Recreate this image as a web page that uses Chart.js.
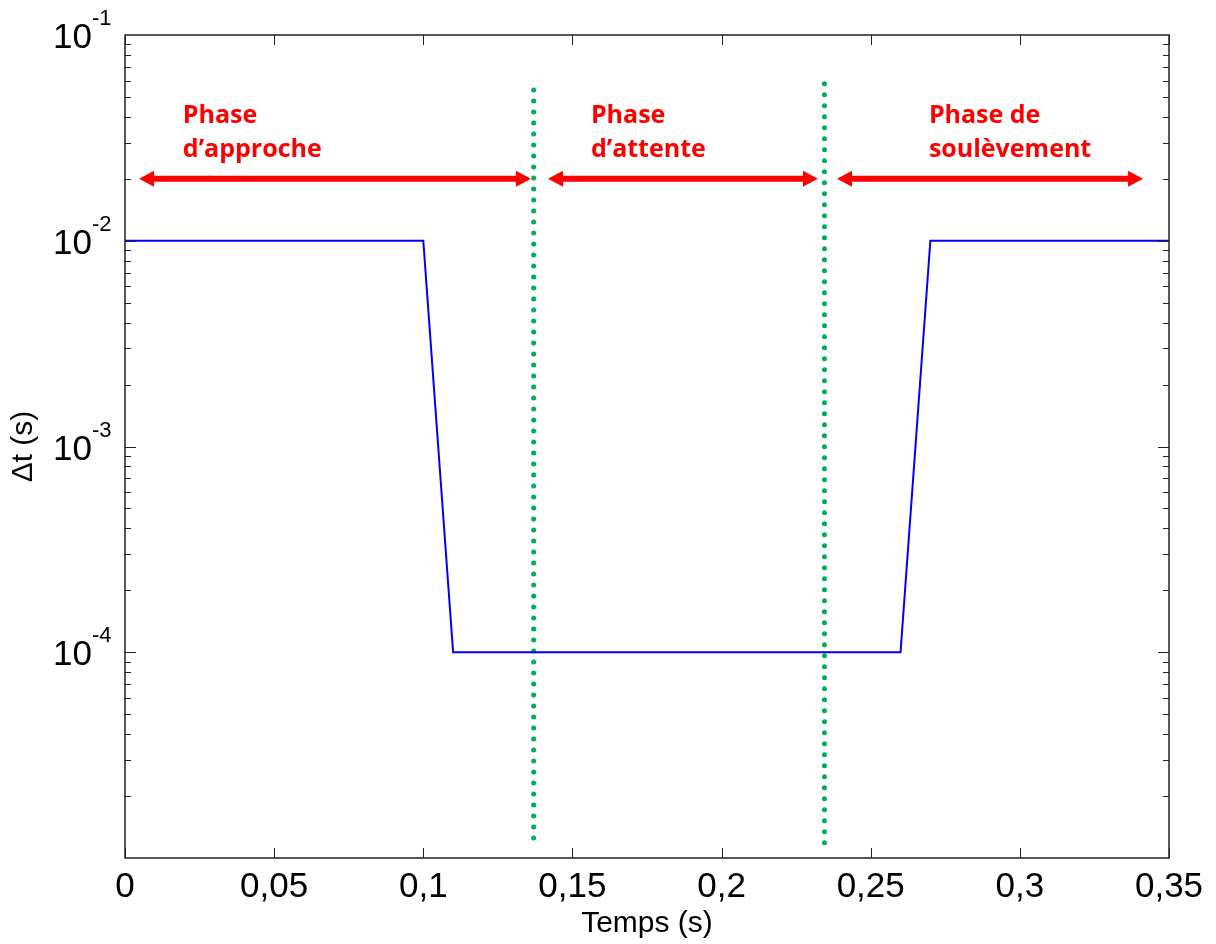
<!DOCTYPE html>
<html>
<head>
<meta charset="utf-8">
<script src="https://cdn.jsdelivr.net/npm/chart.js@4.4.1/dist/chart.umd.min.js"></script>
<style>
  html, body { margin: 0; padding: 0; background: #fff; }
  #wrap { width: 1216px; height: 944px; }
</style>
</head>
<body>
<div id="wrap"><canvas id="dtChart" width="1216" height="944"></canvas></div>
<script>
// time step vs time
const times = [0, 0.1, 0.11, 0.26, 0.27, 0.35];
const dtValues = [1e-2, 1e-2, 1e-4, 1e-4, 1e-2, 1e-2];

const xTicks = [0, 0.05, 0.1, 0.15, 0.2, 0.25, 0.3, 0.35];
const yTicks = [1e-1, 1e-2, 1e-3, 1e-4];
const yTickExp = ['-1', '-2', '-3', '-4'];

// phase boundaries (green dotted lines)
const phaseBounds = [0.137, 0.2345];
const boundTop = [0.054, 0.058];
const boundBottom = [1.16e-5, 1.18e-5];

// phase annotations
const phaseNames = [['Phase', 'd’approche'], ['Phase', 'd’attente'], ['Phase de', 'soulèvement']];
const phaseTextX = [0.0194, 0.1562, 0.2695];
const phaseTextY = [0.0374, 0.0255];
const arrowStart = [0.0047, 0.1418, 0.2387];
const arrowEnd = [0.1361, 0.2323, 0.3413];
const arrowLevel = 0.02;

const ctx = document.getElementById('dtChart').getContext('2d');

function seg(c, x1, y1, x2, y2) {
  c.beginPath();
  c.moveTo(x1, y1);
  c.lineTo(x2, y2);
  c.stroke();
}

function drawArrow(c, x1, x2, py) {
  const head = 15, half = 8;
  c.strokeStyle = '#ff0000';
  c.fillStyle = '#ff0000';
  c.lineWidth = 6;
  seg(c, x1 + head - 1, py, x2 - head + 1, py);
  c.beginPath();
  c.moveTo(x1, py);
  c.lineTo(x1 + head, py - half);
  c.lineTo(x1 + head, py + half);
  c.closePath();
  c.fill();
  c.beginPath();
  c.moveTo(x2, py);
  c.lineTo(x2 - head, py - half);
  c.lineTo(x2 - head, py + half);
  c.closePath();
  c.fill();
}

const framePlugin = {
  id: 'frame',
  afterDatasetsDraw(chart) {
    const { ctx: c, chartArea: a, scales: { x, y } } = chart;
    c.save();

    // box
    c.strokeStyle = '#222';
    c.lineWidth = 1.5;
    c.strokeRect(a.left, a.top, a.right - a.left, a.bottom - a.top);

    // x ticks, inward, top and bottom
    c.lineWidth = 1;
    xTicks.forEach(v => {
      const px = Math.round(x.getPixelForValue(v)) + 0.5;
      seg(c, px, a.bottom, px, a.bottom - 10);
      seg(c, px, a.top, px, a.top + 10);
    });

    // y ticks, major + minor, both sides
    const lo = Math.round(Math.log10(y.min)), hi = Math.round(Math.log10(y.max));
    for (let e = lo; e < hi; e++) {
      for (let m = 1; m < 10; m++) {
        const py = Math.round(y.getPixelForValue(m * Math.pow(10, e))) + 0.5;
        const len = m === 1 ? 11 : 6;
        if (m === 1 && e === lo) continue;
        seg(c, a.left, py, a.left + len, py);
        seg(c, a.right, py, a.right - len, py);
      }
    }

    // y labels 10^n
    c.fillStyle = '#000';
    yTicks.forEach((v, i) => {
      const py = y.getPixelForValue(v);
      c.font = '35px "Liberation Sans", Arial, sans-serif';
      c.textAlign = 'right';
      c.textBaseline = 'alphabetic';
      c.fillText('10', 92, py + 13);
      c.font = '22px "Liberation Sans", Arial, sans-serif';
      c.textAlign = 'left';
      c.fillText(yTickExp[i], 92, py - 10);
    });

    // arrows
    const ay = y.getPixelForValue(arrowLevel);
    arrowStart.forEach((s, i) => {
      drawArrow(c, x.getPixelForValue(s), x.getPixelForValue(arrowEnd[i]), ay);
    });

    // phase texts
    c.fillStyle = '#ff0000';
    c.font = 'bold 25px "Open Sans", sans-serif';
    c.textAlign = 'left';
    c.textBaseline = 'alphabetic';
    phaseNames.forEach((lines, i) => {
      lines.forEach((t, j) => {
        c.fillText(t, x.getPixelForValue(phaseTextX[i]), y.getPixelForValue(phaseTextY[j]));
      });
    });

    c.restore();
  }
};

const datasets = [{
  data: times.map((t, i) => ({ x: t, y: dtValues[i] })),
  borderColor: '#0000ff',
  borderWidth: 2,
  pointRadius: 0,
  tension: 0
}];
phaseBounds.forEach((b, i) => {
  datasets.push({
    data: [{ x: b, y: boundTop[i] }, { x: b, y: boundBottom[i] }],
    borderColor: '#00b050',
    borderWidth: 5,
    borderDash: [0, 11],
    borderCapStyle: 'round',
    pointRadius: 0
  });
});

new Chart(ctx, {
  type: 'line',
  data: { datasets },
  options: {
    responsive: false,
    animation: false,
    layout: { padding: { top: 35, right: 47, left: 0, bottom: 0 } },
    plugins: { legend: { display: false }, tooltip: { enabled: false } },
    scales: {
      x: {
        type: 'linear',
        min: 0,
        max: 0.35,
        afterBuildTicks: s => { s.ticks = xTicks.map(v => ({ value: v })); },
        afterFit: s => { s.height = 86; },
        grid: { display: false, drawTicks: false },
        border: { display: false },
        ticks: {
          color: '#000',
          font: { family: 'Liberation Sans', size: 35 },
          padding: 8,
          maxRotation: 0,
          autoSkip: false,
          callback: v => String(v).replace('.', ',')
        },
        title: {
          display: true,
          text: 'Temps (s)',
          color: '#000',
          font: { family: 'Liberation Sans', size: 30 },
          padding: { top: 0, bottom: 2 }
        }
      },
      y: {
        type: 'logarithmic',
        min: 1e-5,
        max: 1e-1,
        afterFit: s => { s.width = 125; },
        grid: { display: false, drawTicks: false },
        border: { display: false },
        ticks: { display: false },
        title: {
          display: true,
          text: 'Δt (s)',
          color: '#000',
          font: { family: 'Liberation Sans', size: 30 },
          padding: { top: 6, bottom: 0 }
        }
      }
    }
  },
  plugins: [framePlugin]
});
</script>
</body>
</html>
